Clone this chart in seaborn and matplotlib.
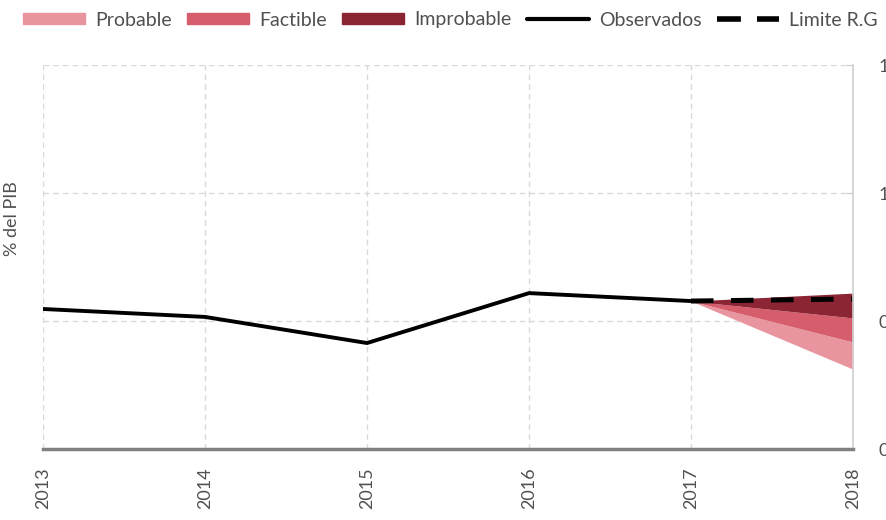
import matplotlib
matplotlib.use("Agg")
from matplotlib import pyplot as plt
from matplotlib.patches import Patch
from matplotlib.lines import Line2D
import seaborn as sns
import pandas as pd

# data
years = [2013, 2014, 2015, 2016, 2017, 2018]
obs_years = [2013, 2014, 2015, 2016, 2017]
observados = [0.547, 0.516, 0.414, 0.609, 0.578]
limite_years = [2017, 2018]
limite = [0.578, 0.586]
# fan band edges: value at 2017 (start) and at 2018 (end)
fan_start = 0.578
improbable_top = 0.609
factible_top = 0.512
probable_top = 0.418
probable_bottom = 0.312
y_ticks = [0.0, 0.5, 1.0, 1.5]
y_tick_labels = ['0.0', '0.5', '1.0', '1.5']

c_probable = '#e8959f'
c_factible = '#d65d6c'
c_improbable = '#8b2433'
txt = '#505050'

sns.set_style('white')
plt.rcParams['font.family'] = ['Lato', 'DejaVu Sans']

fig = plt.figure(figsize=(8.87, 5.2), dpi=100)
ax = fig.add_axes([0.0485, 0.1365, 0.9132, 0.7385])

# fan chart
ax.fill_between(limite_years, [fan_start, probable_top], [fan_start, probable_bottom],
                color=c_probable, lw=0)
ax.fill_between(limite_years, [fan_start, factible_top], [fan_start, probable_top],
                color=c_factible, lw=0)
ax.fill_between(limite_years, [fan_start, improbable_top], [fan_start, factible_top],
                color=c_improbable, lw=0)

df_obs = pd.DataFrame({'year': obs_years, 'value': observados})
df_lim = pd.DataFrame({'year': limite_years, 'value': limite})
sns.lineplot(data=df_obs, x='year', y='value', color='black', lw=2.8, ax=ax)
sns.lineplot(data=df_lim, x='year', y='value', color='black', lw=3.6, ax=ax,
             linestyle=(0, (4.5, 3.5)))

ax.set_xlim(2013, 2018)
ax.set_ylim(0, 1.5)
ax.set_xticks(years)
ax.set_xticklabels([str(y) for y in years], rotation=90, fontsize=13, color=txt)
ax.tick_params(axis='x', length=0, pad=13)

ax.yaxis.tick_right()
ax.set_yticks(y_ticks)
ax.set_yticklabels(y_tick_labels, fontsize=13, color=txt)
ax.tick_params(axis='y', direction='in', length=5, color='#cccccc', pad=18)

ax.grid(True, linestyle=(0, (4, 3)), color='#d9d9d9', lw=1)
ax.set_axisbelow(True)
for s in ['top', 'left']:
    ax.spines[s].set_visible(False)
ax.spines['right'].set_color('#d0d0d0')
ax.spines['right'].set_linewidth(1.2)
ax.spines['bottom'].set_color('#808080')
ax.spines['bottom'].set_linewidth(2.5)

ax.set_xlabel('')
ax.set_ylabel('% del PIB', fontsize=13, color=txt)
ax.yaxis.set_label_position('left')
ax.yaxis.set_label_coords(-0.028, 0.6)

handles = [
    Patch(color=c_probable, label='Probable'),
    Patch(color=c_factible, label='Factible'),
    Patch(color=c_improbable, label='Improbable'),
    Line2D([], [], color='black', lw=3.0, label='Observados'),
    Line2D([], [], color='black', lw=4.0, linestyle=(0, (4.3, 2.9)), label='Limite R.G'),
]
fig.legend(handles=handles, loc='center left', bbox_to_anchor=(23 / 887, 1 - 20 / 520),
           ncol=5, frameon=False, fontsize=14, handlelength=3.2, handleheight=0.5,
           columnspacing=0.8, handletextpad=0.5, borderpad=0, borderaxespad=0,
           labelcolor=txt)

fig.savefig('out.png', dpi=100)
